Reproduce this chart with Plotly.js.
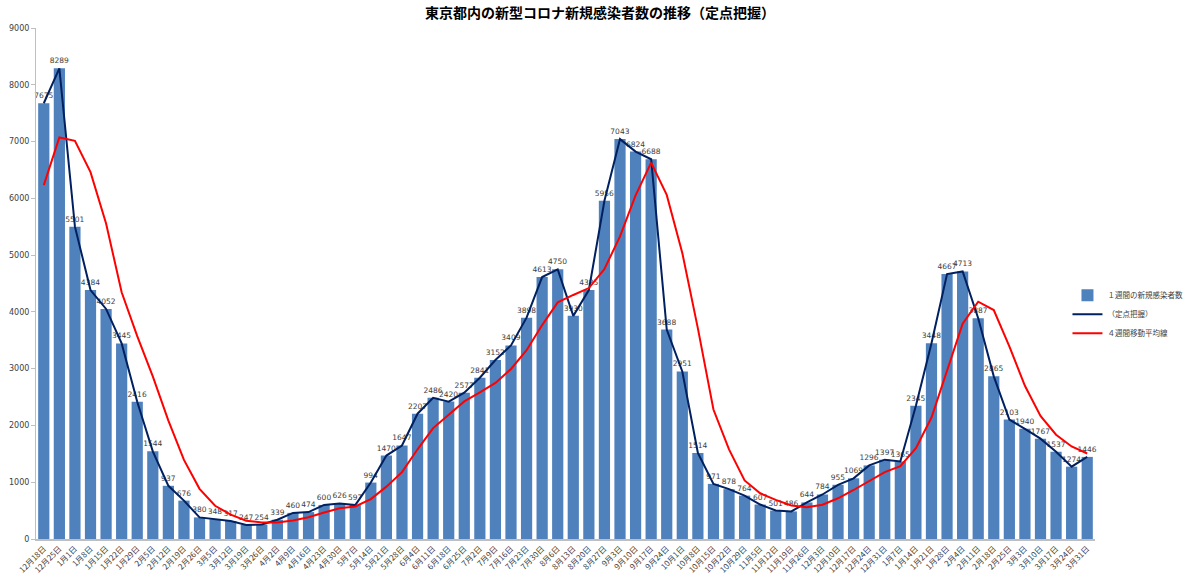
<!DOCTYPE html>
<html>
<head>
<meta charset="utf-8">
<script src="https://cdn.plot.ly/plotly-3.0.1.min.js"></script>
<style>
html,body{margin:0;padding:0;background:#fff;}
#chart{width:1200px;height:579px;}
</style>
</head>
<body>
<div id="chart"></div>
<script>
const weeks = ["12月18日","12月25日","1月1日","1月8日","1月15日","1月22日","1月29日","2月5日","2月12日","2月19日","2月26日","3月5日","3月12日","3月19日","3月26日","4月2日","4月9日","4月16日","4月23日","4月30日","5月7日","5月14日","5月21日","5月28日","6月4日","6月11日","6月18日","6月25日","7月2日","7月9日","7月16日","7月23日","7月30日","8月6日","8月13日","8月20日","8月27日","9月3日","9月10日","9月17日","9月24日","10月1日","10月8日","10月15日","10月22日","10月29日","11月5日","11月12日","11月19日","11月26日","12月3日","12月10日","12月17日","12月24日","12月31日","1月7日","1月14日","1月21日","1月28日","2月4日","2月11日","2月18日","2月25日","3月3日","3月10日","3月17日","3月24日","3月31日"];

const weeklyCases = [7675,8289,5501,4384,4052,3445,2416,1544,937,676,380,348,317,247,254,339,460,474,600,626,597,994,1470,1647,2207,2486,2420,2577,2841,3152,3409,3898,4613,4750,3930,4385,5956,7043,6824,6688,3688,2951,1514,971,878,764,607,501,486,644,784,955,1069,1296,1397,1365,2345,3448,4667,4713,3887,2865,2103,1940,1767,1537,1274,1446];

const movingAvg4w = [6232,7072,7012,6462,5557,4346,3574,2864,2086,1393,884,585,430,323,292,289,325,382,468,540,574,704,922,1177,1580,1953,2190,2423,2581,2748,2995,3325,3768,4168,4298,4420,4755,5329,6052,6628,6061,5038,3710,2281,1579,1032,805,688,590,560,604,717,863,1026,1179,1282,1601,2139,2956,3793,4179,4033,3392,2699,2169,1837,1630,1506];

const idx = weeks.map((w,i)=>i);
const jp = '"Noto Sans CJK JP", "Noto Sans", sans-serif';

const traces = [
  {
    type:'bar', x: idx, y: weeklyCases, name:'１週間の新規感染者数',
    marker:{color:'#4F81BD'},
    text: weeklyCases.map(String), textposition:'outside', constraintext:'none',
    textfont:{size:7.5, color:'#404040', family:'"DejaVu Sans", sans-serif'},
    cliponaxis:false, hoverinfo:'skip'
  },
  {
    type:'scatter', mode:'lines', x: idx, y: weeklyCases, name:'（定点把握）',
    line:{color:'#002060', width:2}, hoverinfo:'skip'
  },
  {
    type:'scatter', mode:'lines', x: idx, y: movingAvg4w, name:'４週間移動平均線',
    line:{color:'#FF0000', width:2}, hoverinfo:'skip'
  }
];

const layout = {
  width:1200, height:579,
  margin:{l:36, r:105, t:28, b:40, autoexpand:false},
  paper_bgcolor:'#fff', plot_bgcolor:'#fff',
  font:{family:jp, color:'#404040'},
  title:{text:'<b>東京都内の新型コロナ新規感染者数の推移（定点把握）</b>', x:0.5, xanchor:'center', y:0.985, yanchor:'top', font:{size:14, color:'#000', family:jp}},
  bargap:0.28,
  showlegend:true,
  legend:{x:0.974, xanchor:'left', y:0.44, yanchor:'middle', font:{size:7.5, color:'#404040', family:jp}, tracegroupgap:0, itemwidth:30, bgcolor:'rgba(0,0,0,0)'},
  xaxis:{
    tickmode:'array', tickvals: idx, ticktext: weeks, tickangle:-45,
    tickfont:{size:8, color:'#404040', family:jp},
    range:[-0.5, weeks.length-0.5],
    showline:true, linecolor:'#BFBFBF', linewidth:2, showgrid:false, zeroline:false, ticks:''
  },
  yaxis:{
    range:[0,9000], tickmode:'linear', tick0:0, dtick:1000,
    tickfont:{size:8, color:'#404040', family:'"DejaVu Sans", sans-serif'},
    showline:true, linecolor:'#BFBFBF', linewidth:1, showgrid:false, zeroline:false,
    ticks:'outside', ticklen:4, tickcolor:'#BFBFBF'
  }
};

Plotly.newPlot('chart', traces, layout, {displayModeBar:false, staticPlot:true});
</script>
</body>
</html>
